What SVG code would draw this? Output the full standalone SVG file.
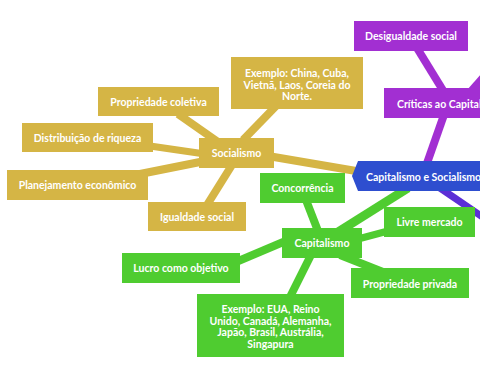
<svg xmlns="http://www.w3.org/2000/svg" width="480" height="379" viewBox="0 0 480 379">
<style>
.t{font-family:Lato,"Open Sans","DejaVu Sans",sans-serif;font-weight:bold;font-size:10.5px;fill:#fff;text-anchor:middle}
.g{fill:#d5b545}.gs{stroke:#d5b545}
.n{fill:#4fcc30}.ns{stroke:#4fcc30}
.p{fill:#a22fd2}.ps{stroke:#a22fd2}
.b{fill:#2e4ecf}
line{stroke-width:8;stroke-linecap:butt}
</style>
<rect width="480" height="379" fill="#fff"/>
<g id="connectors">
  <line class="ps" x1="440" y1="188" x2="484" y2="218" style="stroke:#5c2fd6;stroke-width:7"/>
  <line class="ps" x1="426" y1="166" x2="445" y2="112"/>
  <line class="ps" x1="417" y1="48" x2="444" y2="92"/>
  <line class="ps" x1="468" y1="95" x2="490" y2="70"/>
  <line class="gs" x1="268" y1="156" x2="362" y2="172"/>
  <line class="gs" x1="243" y1="140" x2="276" y2="106"/>
  <line class="gs" x1="178" y1="114" x2="218" y2="142"/>
  <line class="gs" x1="150" y1="146" x2="205" y2="154" style="stroke-width:7"/>
  <line class="gs" x1="140" y1="174" x2="205" y2="161"/>
  <line class="gs" x1="207" y1="205" x2="232" y2="165"/>
  <line class="ns" x1="338" y1="232" x2="408" y2="188" style="stroke-width:9"/>
  <line class="ns" x1="306" y1="200" x2="318" y2="231"/>
  <line class="ns" x1="358" y1="239" x2="388" y2="231" style="stroke-width:7"/>
  <line class="ns" x1="340" y1="255" x2="383" y2="272"/>
  <line class="ns" x1="236" y1="262" x2="288" y2="240"/>
  <line class="ns" x1="311" y1="255" x2="290" y2="297"/>
</g>
<g id="center">
  <polygon class="b" points="358,161 490,161 490,191 358,191 352,176"/>
  <text class="t" x="366" y="181" style="text-anchor:start">Capitalismo e Socialismo</text>
</g>
<g id="criticas">
  <rect class="p" x="384" y="88" width="110" height="30"/>
  <text class="t" x="397" y="108" style="text-anchor:start">Críticas ao Capitalismo</text>
</g>
<g id="desigualdade">
  <rect class="p" x="354" y="21" width="114" height="30"/>
  <text class="t" x="411" y="40">Desigualdade social</text>
</g>
<g id="socialismo">
  <rect class="g" x="199" y="138" width="75" height="30"/>
  <text class="t" x="236.5" y="157">Socialismo</text>
</g>
<g id="exemplo-soc">
  <rect class="g" x="231" y="57" width="132" height="52"/>
  <text class="t" x="297" y="77">Exemplo: China, Cuba,</text>
  <text class="t" x="297" y="88.5">Vietnã, Laos, Coreia do</text>
  <text class="t" x="297" y="100">Norte.</text>
</g>
<g id="propriedade-coletiva">
  <rect class="g" x="98" y="87" width="121" height="29"/>
  <text class="t" x="158.5" y="105.5">Propriedade coletiva</text>
</g>
<g id="distribuicao">
  <rect class="g" x="22" y="123" width="131" height="29"/>
  <text class="t" x="87.5" y="141.5">Distribuição de riqueza</text>
</g>
<g id="planejamento">
  <rect class="g" x="7" y="170" width="141" height="30"/>
  <text class="t" x="77.5" y="189">Planejamento econômico</text>
</g>
<g id="igualdade">
  <rect class="g" x="148" y="202" width="98" height="29"/>
  <text class="t" x="197" y="220.5">Igualdade social</text>
</g>
<g id="capitalismo">
  <rect class="n" x="282" y="228" width="80" height="30"/>
  <text class="t" x="322" y="247">Capitalismo</text>
</g>
<g id="concorrencia">
  <rect class="n" x="260" y="173" width="85" height="30"/>
  <text class="t" x="302.5" y="192">Concorrência</text>
</g>
<g id="livre-mercado">
  <rect class="n" x="384" y="207" width="91" height="30"/>
  <text class="t" x="429.5" y="226">Livre mercado</text>
</g>
<g id="propriedade-privada">
  <rect class="n" x="351" y="268" width="118" height="30"/>
  <text class="t" x="410" y="288">Propriedade privada</text>
</g>
<g id="lucro">
  <rect class="n" x="122" y="253" width="118" height="30"/>
  <text class="t" x="181" y="272">Lucro como objetivo</text>
</g>
<g id="exemplo-cap">
  <rect class="n" x="197" y="294" width="147" height="63"/>
  <text class="t" x="270.5" y="313">Exemplo: EUA, Reino</text>
  <text class="t" x="270.5" y="324.5">Unido, Canadá, Alemanha,</text>
  <text class="t" x="270.5" y="336">Japão, Brasil, Austrália,</text>
  <text class="t" x="270.5" y="347.5">Singapura</text>
</g>
</svg>
